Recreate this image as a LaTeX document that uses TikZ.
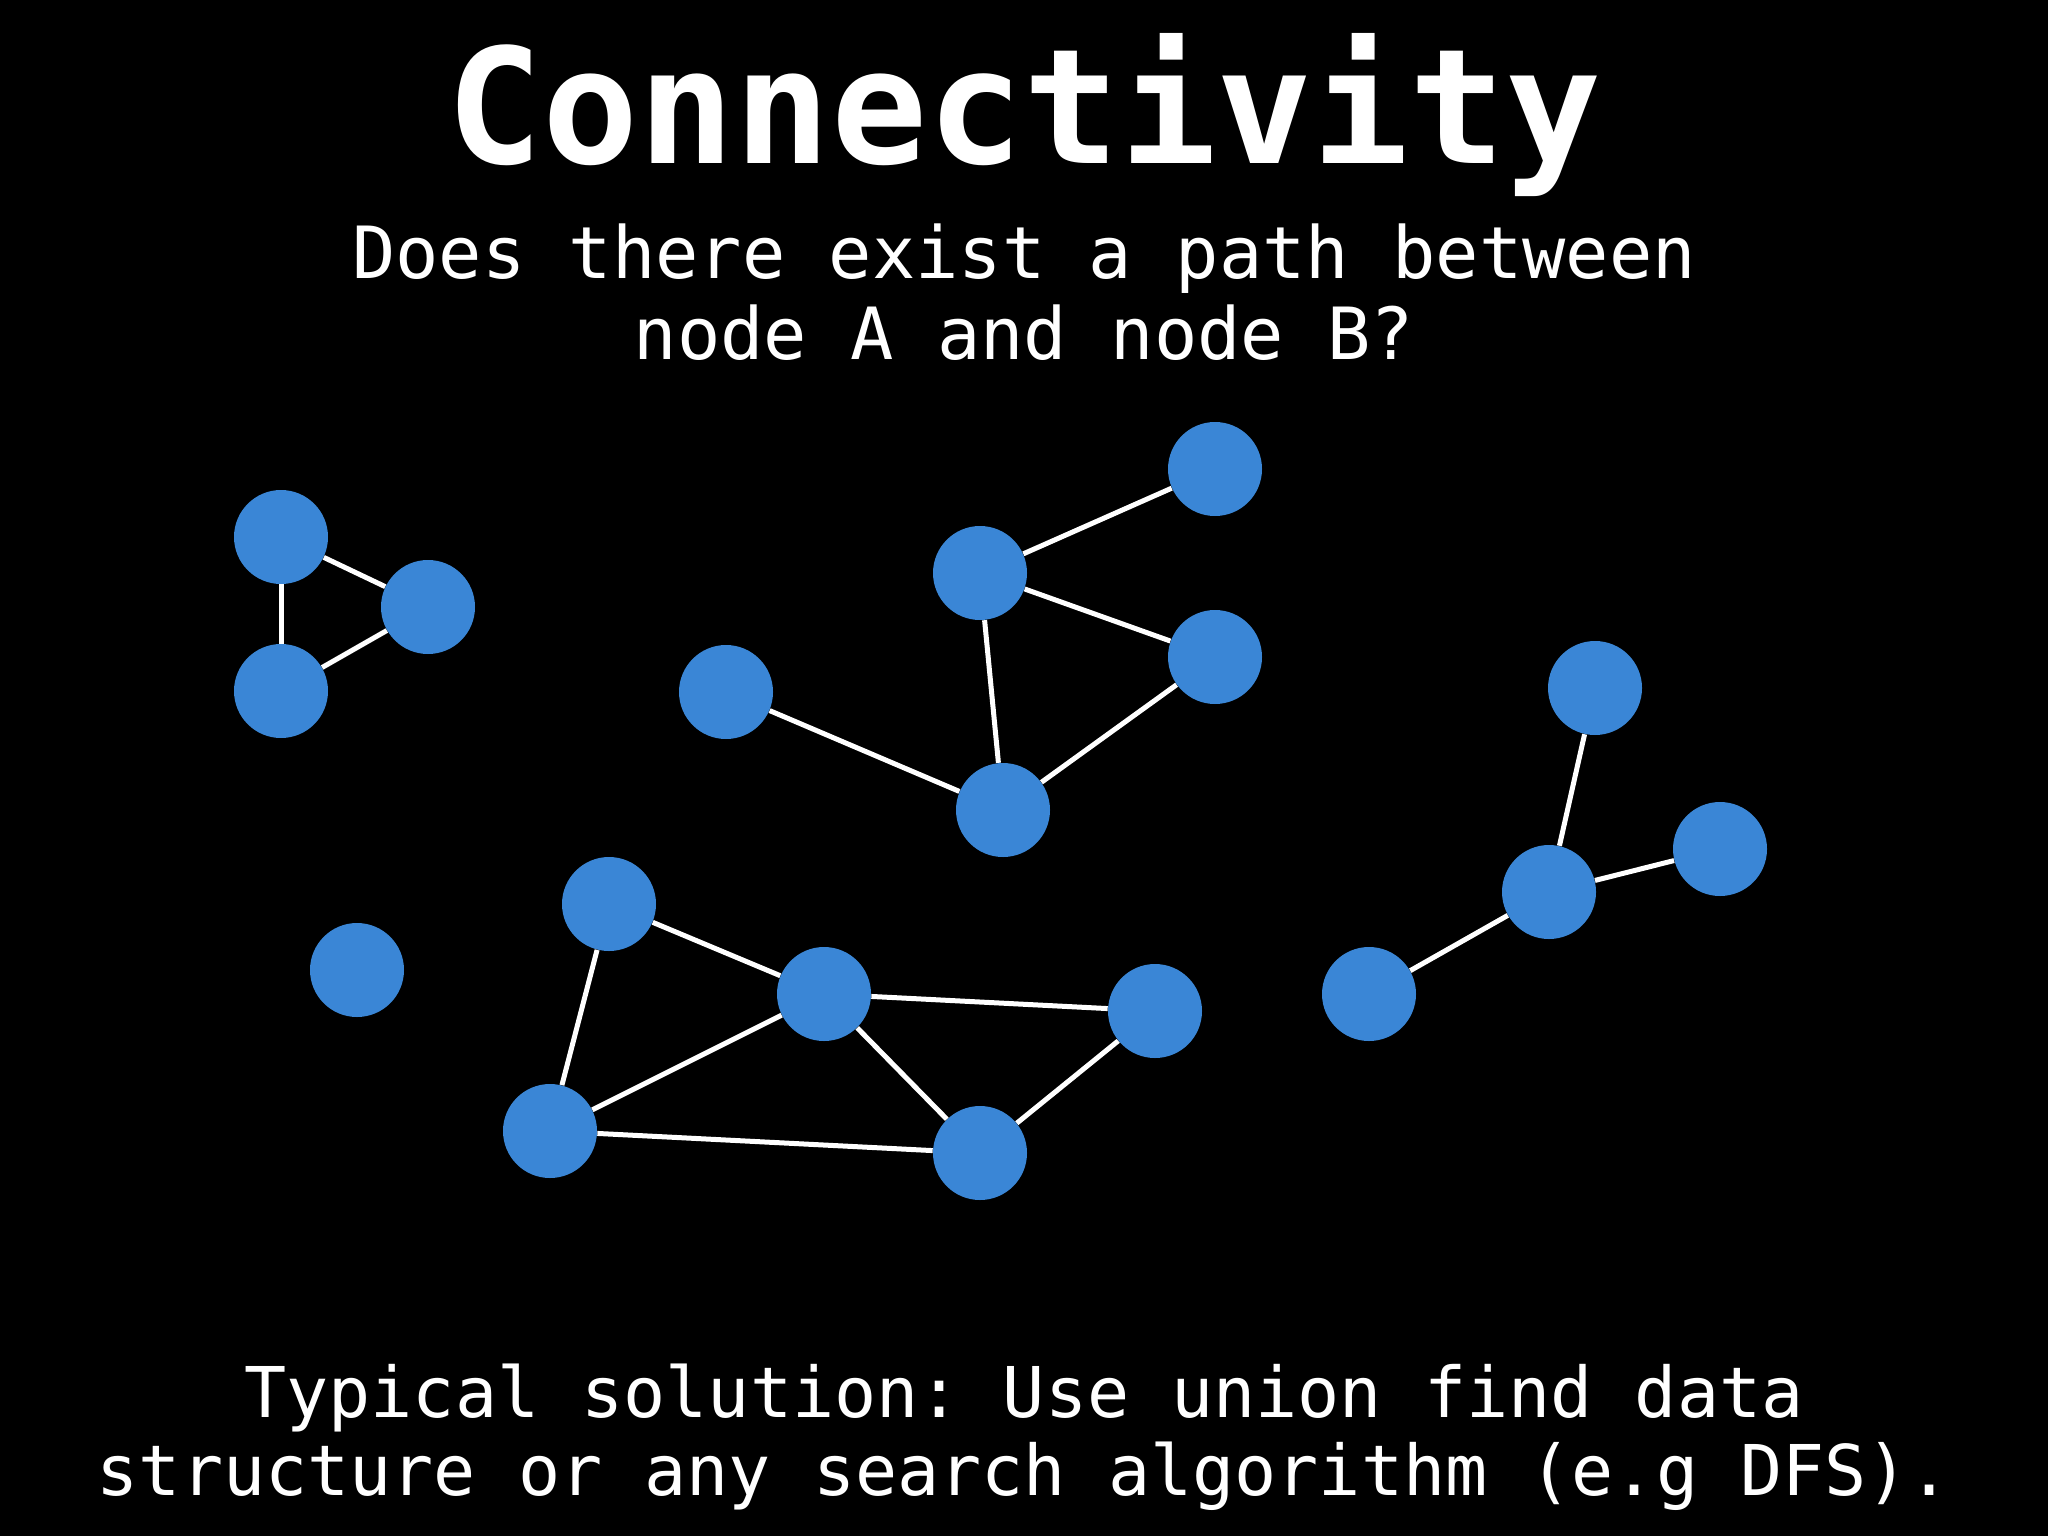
\documentclass[tikz,border=0pt]{standalone}
\usepackage{fontspec}
\setmonofont{DejaVu Sans Mono}
\usepackage{xcolor}
\usetikzlibrary{positioning}
\definecolor{nodeblue}{RGB}{58,134,214}

\begin{document}
\begin{tikzpicture}[
    x=0.5pt, y=-0.5pt,
    vertex/.style={circle, fill=nodeblue, minimum size=47pt, inner sep=0pt},
    link/.style={draw=white, line width=2.5pt},
    title/.style={text=white, anchor=base,
        font=\ttfamily\bfseries\fontsize{80}{90}\selectfont},
    caption/.style={text=white, anchor=base, align=center,
        font=\ttfamily\fontsize{36}{40.5}\selectfont}
]
\fill[black] (0,0) rectangle (2048,1536);
\useasboundingbox (0,0) rectangle (2048,1536);

\node[title] (T) at (1024,163) {Connectivity};
\node[caption] (Q) at (1024,359) {Does there exist a path between\\node A and node B?};
\node[caption, font=\ttfamily\fontsize{35}{39}\selectfont] (S) at (1024,1495)
    {Typical solution: Use union find data\\structure or any search algorithm (e.g DFS).};

% triangle
\node[vertex] (A1) at (281,537) {};
\node[vertex] (A2) at (428,607) {};
\node[vertex] (A3) at (281,691) {};
\draw[link] (A1) -- (A2);
\draw[link] (A1) -- (A3);
\draw[link] (A3) -- (A2);

% upper middle group
\node[vertex] (B1) at (1215,469) {};
\node[vertex] (B2) at (980,573) {};
\node[vertex] (B3) at (1215,657) {};
\node[vertex] (B4) at (726,692) {};
\node[vertex] (B5) at (1003,810) {};
\draw[link] (B2) -- (B1);
\draw[link] (B2) -- (B3);
\draw[link] (B2) -- (B5);
\draw[link] (B4) -- (B5);
\draw[link] (B3) -- (B5);

% right group
\node[vertex] (C1) at (1595,688) {};
\node[vertex] (C2) at (1720,849) {};
\node[vertex] (C3) at (1549,892) {};
\node[vertex] (C4) at (1369,994) {};
\draw[link] (C3) -- (C1);
\draw[link] (C3) -- (C2);
\draw[link] (C3) -- (C4);

% lone node
\node[vertex] (D1) at (357,970) {};

% lower group
\node[vertex] (E1) at (609,904) {};
\node[vertex] (E2) at (824,994) {};
\node[vertex] (E3) at (1155,1011) {};
\node[vertex] (E4) at (550,1131) {};
\node[vertex] (E5) at (980,1153) {};
\draw[link] (E1) -- (E2);
\draw[link] (E1) -- (E4);
\draw[link] (E2) -- (E3);
\draw[link] (E2) -- (E4);
\draw[link] (E2) -- (E5);
\draw[link] (E4) -- (E5);
\draw[link] (E3) -- (E5);

\end{tikzpicture}
\end{document}
